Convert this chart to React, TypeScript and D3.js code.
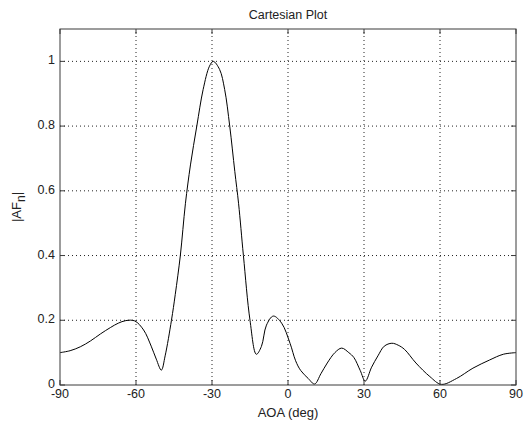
import React from "react";
import * as d3 from "d3";

// angle of arrival samples (deg) and normalised array factor
const aoaDeg = [
  -90, -86, -82, -78, -74, -70, -67, -64, -60.5, -57, -54, -52, -50, -48.5, -46, -44.5, -42.5,
  -40.5, -38.5, -36, -33.5, -31, -29.5, -27, -25, -23, -21, -19.5, -17.6, -15, -12.5, -10.5, -8.5,
  -5.8, -2.5, 0.8, 3, 5, 8, 10.5, 13, 15.5, 18.5, 21.2, 24, 26, 28.5, 30.5, 33, 35.5, 38, 41,
  43.5, 46, 50.5, 56, 60.5, 66.5, 73, 79.5, 85, 90,
];
const afMag = [
  0.1, 0.106, 0.118, 0.136, 0.158, 0.178, 0.191, 0.199, 0.198, 0.17, 0.12, 0.08, 0.046, 0.09,
  0.2, 0.28, 0.4, 0.56, 0.68, 0.8, 0.913, 0.985, 1.0, 0.975, 0.913, 0.8, 0.66, 0.56, 0.4, 0.2,
  0.095, 0.119, 0.185, 0.213, 0.191, 0.129, 0.075, 0.045, 0.02, 0.003, 0.035, 0.068, 0.1, 0.114,
  0.1, 0.085, 0.045, 0.012, 0.055, 0.09, 0.12, 0.129, 0.123, 0.11, 0.068, 0.026, 0.002, 0.02,
  0.052, 0.077, 0.095, 0.1,
];
const xTicks = [-90, -60, -30, 0, 30, 60, 90];
const yTicks = [0, 0.2, 0.4, 0.6, 0.8, 1];

const W = 526;
const H = 423;
const margin = { left: 60, right: 10, top: 29, bottom: 38 };
const font = "'Liberation Sans', Arial, sans-serif";

export default function App() {
  const x = d3.scaleLinear().domain([-90, 90]).range([margin.left, W - margin.right]);
  const y = d3.scaleLinear().domain([0, 1.1]).range([H - margin.bottom, margin.top]);
  const pts: [number, number][] = aoaDeg.map((d, i) => [d, afMag[i]]);
  const line = d3
    .line<[number, number]>()
    .x((d) => x(d[0]))
    .y((d) => y(d[1]))
    .curve(d3.curveCatmullRom.alpha(0.5));
  const [x0, x1] = x.range();
  const [y0, y1] = y.range();
  const tk = 5;
  const axisCol = "#3a3a3a";

  return (
    <svg width={W} height={H} style={{ position: "absolute", left: 0, top: 0, background: "#fff" }}>
      <rect x={0} y={0} width={W} height={H} fill="#fff" />
      {/* grid */}
      {xTicks.slice(1, -1).map((t) => (
        <line key={"gx" + t} x1={x(t)} x2={x(t)} y1={y0} y2={y1} stroke="#222" strokeWidth={1} strokeDasharray="1,3" />
      ))}
      {yTicks.slice(1).map((t) => (
        <line key={"gy" + t} x1={x0} x2={x1} y1={y(t)} y2={y(t)} stroke="#222" strokeWidth={1} strokeDasharray="1,3" />
      ))}
      {/* curve */}
      <path d={line(pts) || ""} fill="none" stroke="#000" strokeWidth={1} />
      {/* box and ticks */}
      <rect x={x0} y={y1} width={x1 - x0} height={y0 - y1} fill="none" stroke={axisCol} strokeWidth={1} />
      {xTicks.map((t) => (
        <g key={"tx" + t}>
          <line x1={x(t)} x2={x(t)} y1={y0} y2={y0 - tk} stroke={axisCol} />
          <line x1={x(t)} x2={x(t)} y1={y1} y2={y1 + tk} stroke={axisCol} />
          <text x={x(t)} y={y0 + 13} textAnchor="middle" fontFamily={font} fontSize={12.5} fill="#222">
            {t}
          </text>
        </g>
      ))}
      {yTicks.map((t) => (
        <g key={"ty" + t}>
          <line x1={x0} x2={x0 + tk} y1={y(t)} y2={y(t)} stroke={axisCol} />
          <line x1={x1} x2={x1 - tk} y1={y(t)} y2={y(t)} stroke={axisCol} />
          <text x={x0 - 5} y={y(t) + 3} textAnchor="end" fontFamily={font} fontSize={12.5} fill="#222">
            {t}
          </text>
        </g>
      ))}
      {/* labels */}
      <text x={(x0 + x1) / 2} y={19} textAnchor="middle" fontFamily={font} fontSize={12.5} fill="#222">
        Cartesian Plot
      </text>
      <text x={(x0 + x1) / 2} y={417} textAnchor="middle" fontFamily={font} fontSize={13} fill="#222">
        AOA (deg)
      </text>
      <text transform={`translate(21, ${(y0 + y1) / 2}) rotate(-90)`} textAnchor="middle" fontFamily={font} fontSize={13} fill="#222">
        |AF<tspan fontSize={12} dy={4}>n</tspan><tspan dy={-4}>|</tspan>
      </text>
    </svg>
  );
}
